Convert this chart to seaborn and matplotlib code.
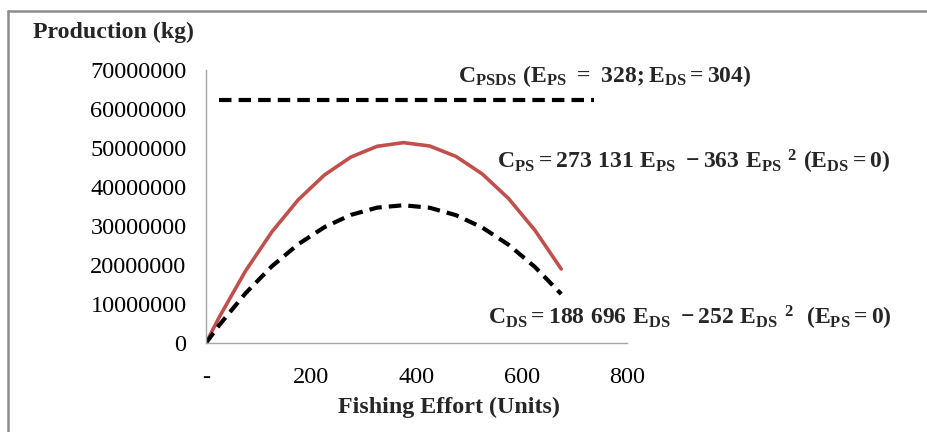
import matplotlib
matplotlib.use("Agg")
import matplotlib.pyplot as plt
import seaborn as sns
import pandas as pd
from matplotlib.lines import Line2D

# Data
effort = [0, 25, 75, 125, 175, 225, 275, 325, 375, 425, 475, 525, 575, 625, 675]
c_ps = [0, 6601400, 18442950, 28469500, 36681050, 43077600, 47659150, 50425700,
        51377250, 50513800, 47835350, 43341900, 37033450, 28910000, 18971550]
c_ds = [0, 4559900, 12734700, 19649500, 25304300, 29699100, 32833900, 34708700,
        35323500, 34678300, 32773100, 29607900, 25182700, 19497500, 12552300]
psds_effort = [25, 738]
c_psds = [62400000, 62400000]

x_ticks = [0, 200, 400, 600, 800]
x_tick_labels = ["-", "200", "400", "600", "800"]
y_ticks = [0, 10000000, 20000000, 30000000, 40000000, 50000000, 60000000, 70000000]
y_tick_labels = [str(v) for v in y_ticks]

sns.set_theme(style="white")
plt.rcParams["font.family"] = ["Liberation Serif", "DejaVu Serif"]
plt.rcParams["mathtext.fontset"] = "custom"
plt.rcParams["mathtext.rm"] = "Liberation Serif:bold"
plt.rcParams["mathtext.it"] = "Liberation Serif:bold"
plt.rcParams["mathtext.bf"] = "Liberation Serif:bold"

W, H = 928, 432
fig = plt.figure(figsize=(W / 100, H / 100), dpi=100)
ax = fig.add_axes([206 / W, (H - 343) / H, (627 - 206) / W, (343 - 70) / H])

df_ps = pd.DataFrame({"E": effort, "C": c_ps})
df_ds = pd.DataFrame({"E": effort, "C": c_ds})
df_psds = pd.DataFrame({"E": psds_effort, "C": c_psds})

sns.lineplot(data=df_ps, x="E", y="C", ax=ax, color="#C0504D", lw=2.6)
sns.lineplot(data=df_ds, x="E", y="C", ax=ax, color="black", lw=3.0,
             linestyle=(0, (3.0, 1.7)))
sns.lineplot(data=df_psds, x="E", y="C", ax=ax, color="black", lw=3.0,
             linestyle=(0, (3.0, 1.7)))

ax.set_xlim(0, 800)
ax.set_ylim(0, 70000000)
ax.set_xticks(x_ticks)
ax.set_xticklabels(x_tick_labels)
ax.set_yticks(y_ticks)
ax.set_yticklabels(y_tick_labels)
ax.set_xlabel("")
ax.set_ylabel("")
for s in ["top", "right"]:
    ax.spines[s].set_visible(False)
for s in ["left", "bottom"]:
    ax.spines[s].set_color("#A6A6A6")
    ax.spines[s].set_linewidth(1.0)
ax.tick_params(axis="both", which="both", direction="out", length=6, width=1.0,
               color="#A6A6A6", labelsize=17.5, labelcolor="black")
ax.tick_params(axis="y", pad=8)
ax.tick_params(axis="x", pad=11)

# Titles
fig.text(33 / W, 1 - 32 / H, "Production (kg)", fontsize=17.2, fontweight="bold",
         ha="left", va="center")
fig.text(449 / W, 1 - 407 / H, "Fishing Effort (Units)", fontsize=17.3,
         fontweight="bold", ha="center", va="center")

# Annotations
fig.text(458 / W, 1 - 76 / H,
         r"$\mathbf{C_{PSDS}\ (E_{PS}\ =\ 328;E_{DS}=304)}$",
         fontsize=17, ha="left", va="center")
fig.text(497 / W, 1 - 162 / H,
         r"$\mathbf{C_{PS}=273\ 131\ E_{PS}\ -363\ E_{PS}\ ^{2}\ (E_{DS}=0)}$",
         fontsize=17, ha="left", va="center")
fig.text(488 / W, 1 - 318 / H,
         r"$\mathbf{C_{DS}=188\ 696\ E_{DS}\ -252\ E_{DS}\ ^{2}\ \ (E_{PS}=0)}$",
         fontsize=17, ha="left", va="center")

# Outer chart border (partially visible)
fig.add_artist(Line2D([8 / W, 8 / W], [0, 1 - 11 / H], transform=fig.transFigure,
                      color="#8C8C8C", lw=1.8))
fig.add_artist(Line2D([8 / W, 1], [1 - 11 / H, 1 - 11 / H], transform=fig.transFigure,
                      color="#8C8C8C", lw=1.8))

fig.savefig("out.png", dpi=100)
